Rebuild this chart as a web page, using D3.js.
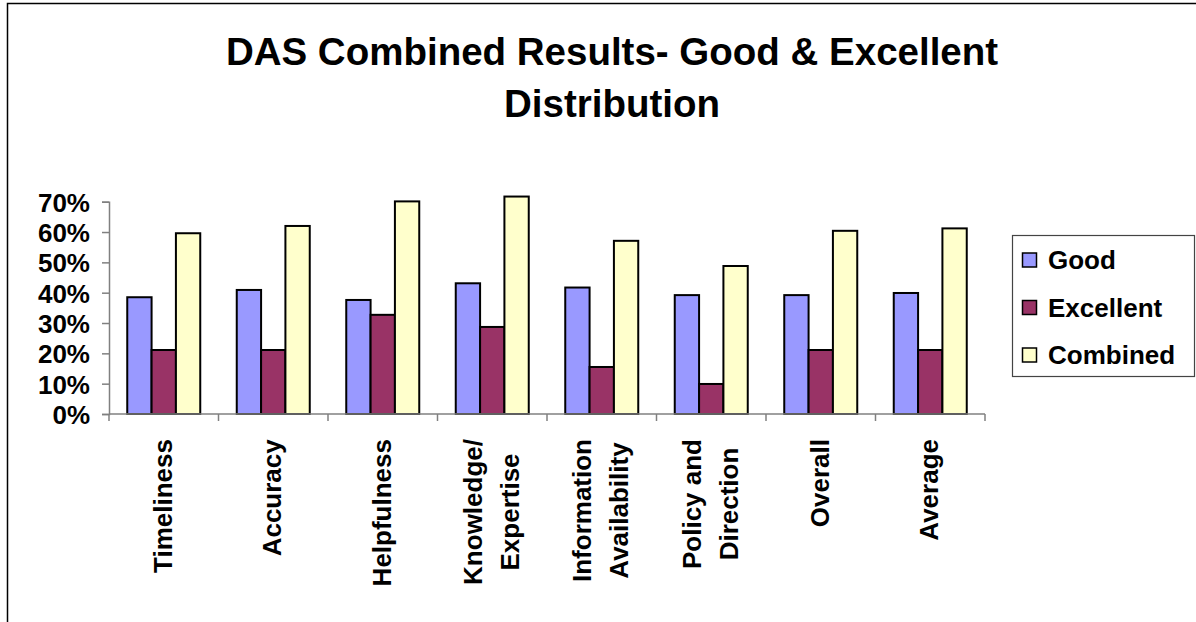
<!DOCTYPE html>
<html>
<head>
<meta charset="utf-8">
<script src="https://cdn.jsdelivr.net/npm/d3@7"></script>
<style>
body { margin: 0; background: #fff; }
text { font-family: "Liberation Sans", Arial, sans-serif; font-weight: bold; fill: #000; }
</style>
</head>
<body>
<div id="canvas"></div>
<script>
// ----------------------------------------------------------
// DATA -----------------------------------------------------
// ----------------------------------------------------------
var categories = [
  ["Timeliness"],
  ["Accuracy"],
  ["Helpfulness"],
  ["Knowledge/", "Expertise"],
  ["Information", "Availability"],
  ["Policy and", "Direction"],
  ["Overall"],
  ["Average"]
];
var seriesNames = ["Good", "Excellent", "Combined"];
var good      = [0.385, 0.409, 0.376, 0.431, 0.417, 0.392, 0.392, 0.399];
var excellent = [0.211, 0.211, 0.327, 0.287, 0.155, 0.099, 0.211, 0.211];
var combined  = [0.596, 0.620, 0.701, 0.717, 0.571, 0.488, 0.604, 0.612];
var yTicks = [0, 0.1, 0.2, 0.3, 0.4, 0.5, 0.6, 0.7];
var titleLines = ["DAS Combined Results- Good & Excellent", "Distribution"];

var seriesValues = [good, excellent, combined];
var seriesColors = ["#9999ff", "#993366", "#ffffcc"];

// ----------------------------------------------------------
// STRUCTURE ------------------------------------------------
// ----------------------------------------------------------
var W = 1196, H = 622;
var svg = d3.select("#canvas").append("svg")
  .attr("width", W)
  .attr("height", H)
  .style("display", "block")
  .style("background-color", "#fff");

// outer chart frame (runs off the right and bottom edges)
svg.append("rect")
  .attr("x", 7.5).attr("y", 3.5)
  .attr("width", 1300).attr("height", 800)
  .attr("fill", "none")
  .attr("stroke", "#000")
  .attr("stroke-width", 1.5);

var plot = { left: 109, right: 985, top: 201.7, bottom: 414 };

var x = d3.scaleBand()
  .domain(d3.range(categories.length))
  .range([plot.left, plot.right])
  .paddingInner(0).paddingOuter(0);

// excel style: gap width 150%
var barW = x.bandwidth() / 4.5;
var xSub = d3.scaleBand()
  .domain(d3.range(seriesNames.length))
  .range([0.75 * barW, 3.75 * barW]);

var y = d3.scaleLinear()
  .domain([0, 0.7])
  .range([plot.bottom, plot.top]);

// ----------------------------------------------------------
// TITLE ----------------------------------------------------
// ----------------------------------------------------------
svg.append("g").selectAll("text")
  .data(titleLines)
  .enter().append("text")
  .attr("x", 612)
  .attr("y", function(d, i) { return 65 + i * 52; })
  .attr("text-anchor", "middle")
  .style("font-size", "38.5px")
  .text(function(d) { return d; });

// ----------------------------------------------------------
// AXES -----------------------------------------------------
// ----------------------------------------------------------
var yAxis = svg.append("g")
  .attr("transform", "translate(" + plot.left + ",0)")
  .call(d3.axisLeft(y).tickValues(yTicks).tickSize(7).tickPadding(12)
    .tickFormat(d3.format(".0%")));
yAxis.select(".domain").attr("stroke", "#808080").attr("stroke-width", 1.5);
yAxis.selectAll(".tick line").attr("stroke", "#808080").attr("stroke-width", 1.5);
yAxis.selectAll(".tick text")
  .style("font-size", "26px")
  .attr("font-family", null)
  .attr("dy", "0.36em");

// bars
var groups = svg.append("g").selectAll("g")
  .data(seriesValues)
  .enter().append("g")
  .attr("fill", function(d, i) { return seriesColors[i]; });

groups.each(function(vals, s) {
  d3.select(this).selectAll("rect")
    .data(vals)
    .enter().append("rect")
    .attr("x", function(d, i) { return x(i) + xSub(s); })
    .attr("y", function(d) { return y(d); })
    .attr("width", xSub.bandwidth())
    .attr("height", function(d) { return y(0) - y(d); })
    .attr("stroke", "#000")
    .attr("stroke-width", 2);
});

// x axis line and category boundary ticks
var xAxis = svg.append("g");
xAxis.append("line")
  .attr("x1", plot.left).attr("x2", plot.right)
  .attr("y1", y(0)).attr("y2", y(0))
  .attr("stroke", "#808080").attr("stroke-width", 1.5);
xAxis.selectAll(".xtick")
  .data(d3.range(categories.length + 1))
  .enter().append("line")
  .attr("class", "xtick")
  .attr("x1", function(d) { return plot.left + d * x.step(); })
  .attr("x2", function(d) { return plot.left + d * x.step(); })
  .attr("y1", y(0)).attr("y2", y(0) + 7)
  .attr("stroke", "#808080").attr("stroke-width", 1.5);

// rotated category labels
var lineH = 37;
xAxis.selectAll(".xlab")
  .data(categories)
  .enter().append("text")
  .attr("class", "xlab")
  .attr("text-anchor", "middle")
  .style("font-size", "26px")
  .each(function(lines, i) {
    var t = d3.select(this);
    lines.forEach(function(l, j) {
      t.append("tspan")
        .attr("x", 0)
        .attr("y", (j - (lines.length - 1) / 2) * lineH + 9)
        .text(l);
    });
    var len = this.getBBox().width;
    t.attr("transform", "translate(" + (x(i) + x.bandwidth() / 2 - 1) + "," + (439 + len / 2) + ") rotate(-90)");
  });

// ----------------------------------------------------------
// LEGEND ---------------------------------------------------
// ----------------------------------------------------------
var legend = svg.append("g").attr("transform", "translate(1012.5,235.5)");
legend.append("rect")
  .attr("width", 182).attr("height", 141)
  .attr("fill", "#fff")
  .attr("stroke", "#444").attr("stroke-width", 1.2);

var items = legend.selectAll(".item")
  .data(seriesNames)
  .enter().append("g")
  .attr("class", "item")
  .attr("transform", function(d, i) { return "translate(0," + (24.5 + i * 47.5) + ")"; });
items.append("rect")
  .attr("x", 10).attr("y", -7)
  .attr("width", 14).attr("height", 14)
  .attr("fill", function(d, i) { return seriesColors[i]; })
  .attr("stroke", "#000").attr("stroke-width", 1.5);
items.append("text")
  .attr("x", 35.5).attr("y", 9)
  .style("font-size", "26px")
  .text(function(d) { return d; });
</script>
</body>
</html>
